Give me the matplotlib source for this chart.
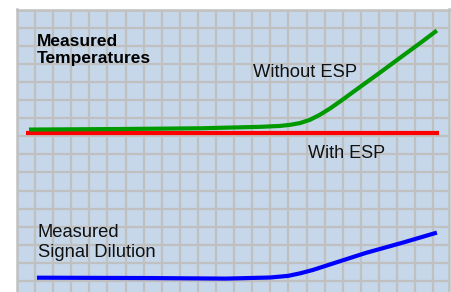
import matplotlib
matplotlib.use("Agg")
import matplotlib.pyplot as plt
import numpy as np

# ---- data (grid units) ----
with_esp_x = [0.50, 23.31]
with_esp_y = [8.18, 8.18]

without_esp_x = [0.66, 5.69, 10.11, 13.43, 14.53, 15.08, 15.64, 16.19, 16.74, 17.29, 17.85,
                 18.95, 20.06, 21.16, 22.27, 23.20]
without_esp_y = [8.37, 8.40, 8.44, 8.52, 8.57, 8.63, 8.73, 8.91, 9.19, 9.53, 9.92,
                 10.72, 11.52, 12.33, 13.14, 13.84]

dilution_x = [1.10, 7.35, 11.55, 13.98, 14.97, 15.64, 16.36, 17.07, 19.28, 21.33, 23.20]
dilution_y = [0.19, 0.17, 0.14, 0.20, 0.29, 0.43, 0.62, 0.85, 1.56, 2.13, 2.68]

label_temps = ["Measured", "Temperatures"]
label_dilution = ["Measured", "Signal Dilution"]
label_without = "Without ESP"
label_with = "With ESP"

# ---- figure ----
W, H = 452, 292
fig = plt.figure(figsize=(W / 100, H / 100), dpi=100, facecolor="white")
left, right, top = 17, 449, 9.5
ax = fig.add_axes([left / W, 0, (right - left) / W, (H - top) / H])
ax.set_facecolor("#c6d7ea")
ax.set_xlim(0, 23.87)
ax.set_ylim(-0.6, 15)
ax.set_xticks(np.arange(0, 24))
ax.set_yticks(np.arange(0, 16))
ax.tick_params(length=0, labelbottom=False, labelleft=False)
ax.grid(True, color="#c0c0c0", linewidth=1.6)
ax.set_axisbelow(True)
for s in ax.spines.values():
    s.set_color("#c0c0c0")
    s.set_linewidth(1.8)
ax.spines["bottom"].set_visible(False)

ax.plot(with_esp_x, with_esp_y, color="#ff0000", linewidth=3.0, solid_capstyle="butt", zorder=3)
ax.plot(without_esp_x, without_esp_y, color="#009a00", linewidth=3.0, solid_capstyle="butt",
        solid_joinstyle="round", zorder=4)
ax.plot(dilution_x, dilution_y, color="#0000ff", linewidth=3.0, solid_capstyle="butt",
        solid_joinstyle="round", zorder=4)

fam = ["Liberation Sans", "DejaVu Sans"]
ax.text(1.09, 12.97, label_temps[0], family=fam, fontsize=12.5, fontweight="bold", va="baseline", color="black")
ax.text(1.09, 12.03, label_temps[1], family=fam, fontsize=12.5, fontweight="bold", va="baseline", color="black")
ax.text(13.06, 11.25, label_without, family=fam, fontsize=13.2, va="baseline", color="#111111")
ax.text(16.08, 6.82, label_with, family=fam, fontsize=13.0, va="baseline", color="#111111")
ax.text(1.14, 2.45, label_dilution[0], family=fam, fontsize=13.2, va="baseline", color="#111111")
ax.text(1.14, 1.33, label_dilution[1], family=fam, fontsize=13.2, va="baseline", color="#111111")

fig.savefig("out.png", dpi=100, facecolor="white")
